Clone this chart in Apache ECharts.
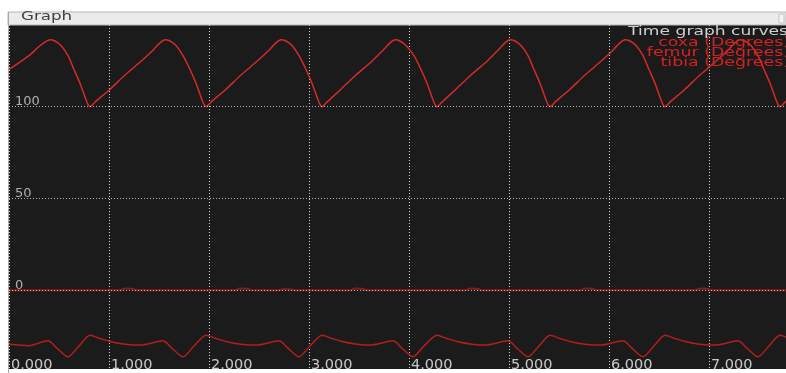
<!DOCTYPE html>
<html>
<head>
<meta charset="utf-8">
<title>Graph</title>
<script src="https://cdn.jsdelivr.net/npm/echarts@6/dist/echarts.min.js"></script>
<style>
  html, body { margin: 0; padding: 0; background: #ffffff; }
  #chart { width: 786px; height: 373px; }
</style>
</head>
<body>
<div id="chart"></div>
<script>
// Joint angle traces over time (seconds), in degrees.
const coxaTime = [
  0, 0.21, 0.30, 0.37, 0.41,
  0.46, 0.52, 0.59, 0.65, 0.71, 0.76, 0.79, 0.81,
  0.86, 1.01, 1.16, 1.32, 1.44, 1.51, 1.56,
  1.61, 1.67, 1.74, 1.81, 1.87, 1.92, 1.95, 1.97,
  2.02, 2.17, 2.32, 2.48, 2.60, 2.67, 2.72,
  2.77, 2.83, 2.90, 2.97, 3.03, 3.08, 3.11, 3.13,
  3.18, 3.32, 3.47, 3.63, 3.74, 3.81, 3.86,
  3.91, 3.97, 4.05, 4.12, 4.18, 4.23, 4.26, 4.28,
  4.33, 4.47, 4.62, 4.78, 4.89, 4.96, 5.01,
  5.06, 5.12, 5.19, 5.25, 5.31, 5.36, 5.39, 5.41,
  5.46, 5.61, 5.76, 5.92, 6.04, 6.11, 6.16,
  6.21, 6.27, 6.34, 6.40, 6.46, 6.51, 6.54, 6.56,
  6.61, 6.76, 6.91, 7.07, 7.19, 7.26, 7.31,
  7.36, 7.42, 7.49, 7.55, 7.61, 7.66, 7.69, 7.71,
  7.76, 7.80
];
const coxaDeg = [
  120, 128, 132.5, 135.3, 136.2,
  135.5, 133, 127.5, 120, 112.5, 105, 101, 99.8,
  102.3, 109.3, 117, 124.5, 130.5, 134.5, 136.2,
  135.5, 133, 127.5, 120, 112.5, 105, 101, 99.8,
  102.3, 109.3, 117, 124.5, 130.5, 134.5, 136.2,
  135.5, 133, 127.5, 120, 112.5, 105, 101, 99.8,
  102.3, 109.3, 117, 124.5, 130.5, 134.5, 136.2,
  135.5, 133, 127.5, 120, 112.5, 105, 101, 99.8,
  102.3, 109.3, 117, 124.5, 130.5, 134.5, 136.2,
  135.5, 133, 127.5, 120, 112.5, 105, 101, 99.8,
  102.3, 109.3, 117, 124.5, 130.5, 134.5, 136.2,
  135.5, 133, 127.5, 120, 112.5, 105, 101, 99.8,
  102.3, 109.3, 117, 124.5, 130.5, 134.5, 136.2,
  135.5, 133, 127.5, 120, 112.5, 105, 101, 99.8,
  102.3, 104.2
];

const femurTime = [
  0, 1.11, 1.16, 1.23, 1.28,
  2.26, 2.31, 2.38, 2.43,
  2.70, 2.74, 2.80, 2.86,
  3.41, 3.46, 3.53, 3.58,
  4.56, 4.61, 4.68, 4.73,
  5.71, 5.76, 5.83, 5.88,
  6.86, 6.91, 6.98, 7.03,
  7.80
];
const femurDeg = [
  0, 0, 0.9, 0.8, 0,
  0, 0.9, 0.8, 0,
  0, 0.5, 0.5, 0,
  0, 0.9, 0.8, 0,
  0, 0.9, 0.8, 0,
  0, 0.9, 0.8, 0,
  0, 0.9, 0.8, 0,
  0
];

const tibiaTime = [
  0, 0.20, 0.39, 0.48, 0.59, 0.70, 0.81,
  0.91, 1.01, 1.16, 1.31, 1.54, 1.63, 1.74, 1.85, 1.97,
  2.07, 2.17, 2.32, 2.47, 2.70, 2.79, 2.90, 3.01, 3.13,
  3.23, 3.33, 3.48, 3.61, 3.84, 3.93, 4.04, 4.15, 4.28,
  4.38, 4.48, 4.63, 4.76, 4.99, 5.08, 5.19, 5.30, 5.41,
  5.51, 5.61, 5.76, 5.91, 6.14, 6.23, 6.34, 6.45, 6.56,
  6.66, 6.76, 6.91, 7.06, 7.29, 7.38, 7.49, 7.60, 7.71,
  7.81
];
const tibiaDeg = [
  -29.4, -30.1, -27.5, -31.5, -36.2, -30.3, -24.5,
  -26.2, -27.8, -29.3, -29.8, -27.5, -31.5, -36.2, -30.3, -24.5,
  -26.2, -27.8, -29.3, -29.8, -27.5, -31.5, -36.2, -30.3, -24.5,
  -26.2, -27.8, -29.3, -29.8, -27.5, -31.5, -36.2, -30.3, -24.5,
  -26.2, -27.8, -29.3, -29.8, -27.5, -31.5, -36.2, -30.3, -24.5,
  -26.2, -27.8, -29.3, -29.8, -27.5, -31.5, -36.2, -30.3, -24.5,
  -26.2, -27.8, -29.3, -29.8, -27.5, -31.5, -36.2, -30.3, -24.5,
  -26.2
];

// Axis settings and labels
const timeMin = 0;
const timeMax = 7.77;
const timeStep = 1;
const degMin = -42.8;
const degMax = 144.2;
const degGridValues = [0, 50, 100];

const titleText = 'Graph';
const legendTitle = 'Time graph curves';
const curveNames = ['coxa (Degrees)', 'femur (Degrees)', 'tibia (Degrees)'];

const zip = (ts, vs) => ts.map((t, i) => [t, vs[i]]);

const textFont = 'DejaVu Sans';
const gridColor = '#d4d4d4';
const labelColor = '#c8c8c8';
const redText = '#d42222';

const chart = echarts.init(document.getElementById('chart'), null, { renderer: 'canvas' });

chart.setOption({
  animation: false,
  backgroundColor: '#ffffff',
  grid: {
    left: 9, right: 0, top: 25, bottom: 0,
    show: true, backgroundColor: '#1b1b1b', borderWidth: 0,
    containLabel: false
  },
  xAxis: {
    type: 'value',
    min: timeMin, max: timeMax, interval: timeStep,
    axisLine: { show: false },
    axisTick: { show: false },
    splitLine: { show: true, lineStyle: { color: gridColor, type: [1, 2], width: 1 } },
    axisLabel: {
      show: true, showMaxLabel: false,
      margin: -11, align: 'left', padding: [0, 0, 0, 2],
      color: labelColor, fontFamily: textFont, fontSize: 14.5,
      formatter: v => v.toFixed(3)
    }
  },
  yAxis: {
    type: 'value',
    min: degMin, max: degMax,
    axisLine: { show: false },
    axisTick: { show: false },
    splitLine: { show: false },
    axisLabel: { show: false }
  },
  series: [
    {
      name: curveNames[1], type: 'line', showSymbol: false, z: 2,
      data: zip(femurTime, femurDeg), smooth: 0.3,
      lineStyle: { color: '#8c1c1c', width: 2 }
    },
    {
      name: 'grid', type: 'line', data: [], z: 3, silent: true,
      markLine: {
        silent: true, symbol: 'none', animation: false,
        lineStyle: { color: gridColor, type: [1, 2], width: 1, opacity: 0.85 },
        label: {
          show: true, position: 'insideStartTop', distance: [6, -2],
          color: labelColor, fontFamily: textFont, fontSize: 13,
          formatter: p => String(p.value)
        },
        data: degGridValues.map(v => ({ yAxis: v }))
      }
    },
    {
      name: curveNames[0], type: 'line', showSymbol: false, z: 4,
      data: zip(coxaTime, coxaDeg), smooth: 0.25,
      lineStyle: { color: '#d42a2a', width: 1.5 }
    },
    {
      name: curveNames[2], type: 'line', showSymbol: false, z: 4,
      data: zip(tibiaTime, tibiaDeg), smooth: 0.25,
      lineStyle: { color: '#b41e1e', width: 1.5 }
    }
  ],
  graphic: [
    { type: 'rect', shape: { x: 8, y: 12, width: 778, height: 13 },
      style: { fill: '#ebebeb', stroke: '#b8b8b8', lineWidth: 1 }, z: 10 },
    { type: 'rect', shape: { x: 779, y: 14, width: 5, height: 9 },
      style: { fill: '#f4f4f4', stroke: '#c4c4c4', lineWidth: 1 }, z: 11 },
    { type: 'line', shape: { x1: 8.5, y1: 12, x2: 8.5, y2: 373 },
      style: { stroke: '#a8a8a8', lineWidth: 1 }, z: 10 },
    { type: 'text', x: 21, y: 17, scaleX: 1.45, z: 11,
      style: { text: titleText, fill: '#404040', font: '11.5px "DejaVu Sans"',
               align: 'left', verticalAlign: 'middle' } },
    { type: 'text', x: 788, y: 31.5, scaleX: 1.37, z: 11,
      style: { text: legendTitle, fill: '#cfcfcf', font: '12.5px "DejaVu Sans"',
               align: 'right', verticalAlign: 'middle' } },
    { type: 'text', x: 790, y: 43, scaleX: 1.51, z: 11,
      style: { text: curveNames[0], fill: redText, font: '11.5px "DejaVu Sans"',
               align: 'right', verticalAlign: 'middle' } },
    { type: 'text', x: 790, y: 53, scaleX: 1.51, z: 11,
      style: { text: curveNames[1], fill: redText, font: '11.5px "DejaVu Sans"',
               align: 'right', verticalAlign: 'middle' } },
    { type: 'text', x: 790, y: 63, scaleX: 1.51, z: 11,
      style: { text: curveNames[2], fill: redText, font: '11.5px "DejaVu Sans"',
               align: 'right', verticalAlign: 'middle' } }
  ]
});
</script>
</body>
</html>
